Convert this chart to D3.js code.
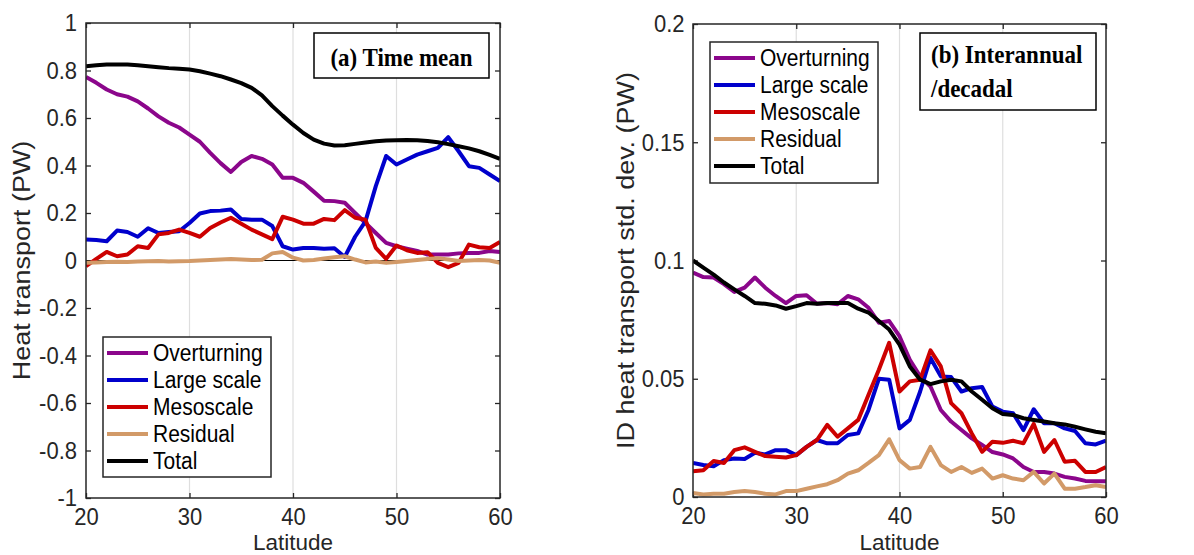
<!DOCTYPE html>
<html>
<head>
<meta charset="utf-8">
<script src="https://cdn.jsdelivr.net/npm/d3@7"></script>
<style>
body{margin:0;background:#fff;}
svg{display:block;}
</style>
</head>
<body>
<svg id="chart" width="1194" height="555"></svg>
<script>
// latitude, one value per degree
var lat = d3.range(20, 61);

// (a) time mean heat transport (PW)
var meanOverturning = [0.773,0.748,0.72,0.70,0.69,0.67,0.64,0.607,0.58,0.56,0.53,0.50,0.453,0.41,0.373,0.415,0.44,0.428,0.404,0.348,0.348,0.327,0.29,0.252,0.25,0.243,0.20,0.158,0.116,0.074,0.06,0.05,0.04,0.025,0.025,0.025,0.03,0.032,0.032,0.04,0.036];
var meanLarge = [0.088,0.086,0.081,0.126,0.12,0.10,0.136,0.116,0.12,0.123,0.158,0.198,0.208,0.21,0.215,0.175,0.172,0.172,0.145,0.06,0.046,0.053,0.053,0.049,0.052,0.015,0.10,0.165,0.313,0.44,0.404,0.425,0.446,0.46,0.474,0.519,0.46,0.397,0.39,0.362,0.334];
var meanMeso = [-0.024,0.007,0.036,0.018,0.025,0.06,0.053,0.11,0.116,0.13,0.116,0.10,0.137,0.16,0.18,0.155,0.13,0.11,0.09,0.184,0.172,0.155,0.155,0.175,0.17,0.212,0.18,0.172,0.053,0.007,0.063,0.043,0.032,0.035,-0.01,-0.028,-0.01,0.067,0.056,0.053,0.078];
var meanResidual = [-0.01,-0.008,-0.006,-0.005,-0.006,-0.004,-0.003,-0.002,-0.004,-0.003,-0.002,0.0,0.002,0.004,0.006,0.004,0.002,0.003,0.03,0.036,0.012,0.0,0.002,0.008,0.014,0.018,0.004,-0.008,-0.004,-0.01,-0.006,-0.002,0.002,0.006,0.01,0.004,-0.002,0.0,0.002,0.0,-0.01];
var meanTotal = [0.818,0.822,0.825,0.825,0.825,0.822,0.818,0.814,0.81,0.807,0.804,0.797,0.787,0.776,0.762,0.747,0.727,0.695,0.65,0.61,0.572,0.537,0.509,0.492,0.484,0.485,0.491,0.497,0.502,0.505,0.506,0.507,0.506,0.503,0.498,0.49,0.481,0.472,0.46,0.445,0.428];

// (b) interannual/decadal std. dev. (PW)
var idOverturning = [0.0949,0.093,0.0928,0.09,0.0867,0.0885,0.0928,0.0885,0.085,0.082,0.085,0.0853,0.0817,0.082,0.0815,0.085,0.0836,0.08,0.0737,0.0744,0.068,0.058,0.051,0.0467,0.0368,0.0319,0.0283,0.0248,0.022,0.019,0.018,0.0163,0.0127,0.0106,0.0106,0.0099,0.0085,0.0078,0.0068,0.0067,0.0067];
var idLarge = [0.0144,0.0135,0.013,0.0156,0.0163,0.0161,0.0187,0.018,0.0198,0.0198,0.0177,0.0212,0.0241,0.0227,0.0227,0.0262,0.0269,0.0368,0.05,0.0496,0.029,0.0326,0.0446,0.0588,0.051,0.0507,0.0446,0.046,0.0465,0.0382,0.0361,0.0354,0.0283,0.0371,0.0312,0.0312,0.029,0.0279,0.0227,0.0222,0.0238];
var idMeso = [0.0109,0.0113,0.0152,0.0144,0.0198,0.021,0.0191,0.0173,0.017,0.0167,0.0177,0.0212,0.0241,0.0305,0.0255,0.029,0.0326,0.0432,0.0538,0.0652,0.0446,0.0489,0.0496,0.062,0.0552,0.0397,0.0354,0.0269,0.0191,0.0234,0.0229,0.0238,0.0227,0.0309,0.0191,0.0241,0.0149,0.0153,0.0106,0.0106,0.0127];
var idResidual = [0.0017,0.0011,0.0014,0.0014,0.0021,0.0025,0.0021,0.0014,0.0011,0.0025,0.0025,0.0035,0.0045,0.0054,0.0071,0.0099,0.0113,0.0144,0.0177,0.0244,0.0156,0.012,0.0127,0.0212,0.0135,0.0106,0.0127,0.0102,0.012,0.0078,0.0092,0.0078,0.0071,0.0106,0.0057,0.0099,0.0035,0.0035,0.0042,0.005,0.0042];
var idTotal = [0.1,0.097,0.094,0.0907,0.0878,0.085,0.082,0.0817,0.081,0.0796,0.0807,0.082,0.0817,0.082,0.082,0.082,0.0796,0.078,0.0744,0.0708,0.0644,0.0552,0.0496,0.0477,0.0489,0.0496,0.0489,0.0446,0.0411,0.0375,0.0351,0.0347,0.0333,0.0326,0.0319,0.0312,0.0307,0.0297,0.0286,0.0276,0.0269];

var names = ["Overturning","Large scale","Mesoscale","Residual","Total"];
var colors = ["#8b068b","#0000cc","#cc0000","#d29a68","#000000"];
var xTicks = [20,30,40,50,60];
var yTicksA = [-1,-0.8,-0.6,-0.4,-0.2,0,0.2,0.4,0.6,0.8,1];
var yTicksB = [0,0.05,0.1,0.15,0.2];

var svg = d3.select("#chart");
var axisColor = "#262626";
var font = "'Liberation Sans', Arial, sans-serif";
var VS = 1.1; // text in the original is a bit taller than wide

// text placed at (x,y) with the vertical stretch
function addText(parent, x, y, str, size, rot, vs){
	vs = vs || VS;
	return parent.append("text")
		.attr("transform","translate("+x+","+y+") scale(1,"+vs+")"+(rot?" rotate(-90)":""))
		.style("font-family",font).style("font-size",size+"px").text(str);
}

function drawPanel(p){
	var x = d3.scaleLinear().domain([20,60]).range([p.left,p.right]);
	var y = d3.scaleLinear().domain(p.yDomain).range([p.bottom,p.top]);
	var g = svg.append("g");

	// grid lines
	g.selectAll(".grid").data([30,40,50]).enter().append("line")
		.attr("x1",function(d){return x(d);}).attr("x2",function(d){return x(d);})
		.attr("y1",p.top).attr("y2",p.bottom)
		.attr("stroke","#dedede").attr("stroke-width",1.2);

	// axes, ticks inside
	var bottom = g.append("g").attr("transform","translate(0,"+p.bottom+")")
		.call(d3.axisBottom(x).tickValues(xTicks).tickSizeInner(-5).tickSizeOuter(0).tickPadding(8.5));
	var top = g.append("g").attr("transform","translate(0,"+p.top+")")
		.call(d3.axisTop(x).tickValues(xTicks).tickSizeInner(-5).tickSizeOuter(0).tickFormat(""));
	var left = g.append("g").attr("transform","translate("+p.left+",0)")
		.call(d3.axisLeft(y).tickValues(p.yTicks).tickSizeInner(-5).tickSizeOuter(0).tickPadding(p.pad).tickFormat(p.fmt));
	var right = g.append("g").attr("transform","translate("+p.right+",0)")
		.call(d3.axisRight(y).tickValues(p.yTicks).tickSizeInner(-5).tickSizeOuter(0).tickFormat(""));
	[bottom,top,left,right].forEach(function(a){
		a.select(".domain").remove();
		a.selectAll("line").attr("stroke",axisColor).attr("stroke-width",1.3);
		a.selectAll("text").attr("fill",axisColor).attr("transform","scale(1,"+VS+")")
			.style("font-family",font).style("font-size","22px");
	});

	// clip
	var clipId = "clip"+p.id;
	svg.append("clipPath").attr("id",clipId).append("rect")
		.attr("x",p.left).attr("y",p.top).attr("width",p.right-p.left).attr("height",p.bottom-p.top);

	var plot = g.append("g").attr("clip-path","url(#"+clipId+")");
	if(p.zeroLine){
		plot.append("line").attr("x1",p.left).attr("x2",p.right)
			.attr("y1",y(0)).attr("y2",y(0)).attr("stroke","#000").attr("stroke-width",1.2);
	}
	var line = d3.line().x(function(d,i){return x(lat[i]);}).y(function(d){return y(d);});
	p.series.forEach(function(s,i){
		plot.append("path").datum(s)
			.attr("fill","none").attr("stroke",colors[i]).attr("stroke-width",4)
			.attr("stroke-linejoin","round").attr("d",line);
	});

	// box
	g.append("rect").attr("x",p.left).attr("y",p.top)
		.attr("width",p.right-p.left).attr("height",p.bottom-p.top)
		.attr("fill","none").attr("stroke",axisColor).attr("stroke-width",1.5);

	// axis labels
	addText(g,(p.left+p.right)/2,550,"Latitude",22.5,false,1).attr("text-anchor","middle").attr("fill",axisColor);
	addText(g,p.ylabX,(p.top+p.bottom)/2,p.ylabel,24.5,true).attr("text-anchor","middle").attr("fill",axisColor);

	// legend
	var lg = g.append("g");
	lg.append("rect").attr("x",p.leg.x).attr("y",p.leg.y).attr("width",p.leg.w).attr("height",p.leg.h)
		.attr("fill","#fff").attr("stroke",axisColor).attr("stroke-width",1.5);
	names.forEach(function(n,i){
		var cy = p.leg.y+16+i*27;
		lg.append("line").attr("x1",p.leg.x+4).attr("x2",p.leg.x+45)
			.attr("y1",cy).attr("y2",cy).attr("stroke",colors[i]).attr("stroke-width",4);
		addText(lg,p.leg.x+50,cy,n,21).attr("dy","0.35em").attr("fill","#000");
	});

	// panel title
	g.append("rect").attr("x",p.title.x).attr("y",p.title.y).attr("width",p.title.w).attr("height",p.title.h)
		.attr("fill","#fff").attr("stroke","#000").attr("stroke-width",1.5);
	p.title.lines.forEach(function(t,i){
		addText(g,p.title.tx,p.title.ty+i*34,t,23)
			.attr("text-anchor",p.title.anchor).attr("fill","#000")
			.style("font-family","'Liberation Serif', 'Times New Roman', serif")
			.style("font-weight","bold");
	});
}

drawPanel({
	id:"a", left:86, right:500, top:23, bottom:498, yDomain:[-1,1], yTicks:yTicksA, pad:9,
	fmt:function(d){return String(Math.round(d*10)/10);},
	zeroLine:true, ylabX:30, ylabel:"Heat transport (PW)",
	series:[meanOverturning,meanLarge,meanMeso,meanResidual,meanTotal],
	leg:{x:103,y:337,w:168,h:140},
	title:{x:314,y:33,w:175,h:45,tx:401.5,ty:66,anchor:"middle",lines:["(a) Time mean"]}
});

drawPanel({
	id:"b", left:693, right:1106, top:24, bottom:497, yDomain:[0,0.2], yTicks:yTicksB, pad:8.5,
	fmt:function(d){return String(d);},
	zeroLine:false, ylabX:634, ylabel:"ID heat transport std. dev. (PW)",
	series:[idOverturning,idLarge,idMeso,idResidual,idTotal],
	leg:{x:710,y:42,w:168,h:141},
	title:{x:920,y:33,w:176,h:77,tx:931,ty:63,anchor:"start",lines:["(b) Interannual","/decadal"]}
});
</script>
</body>
</html>
